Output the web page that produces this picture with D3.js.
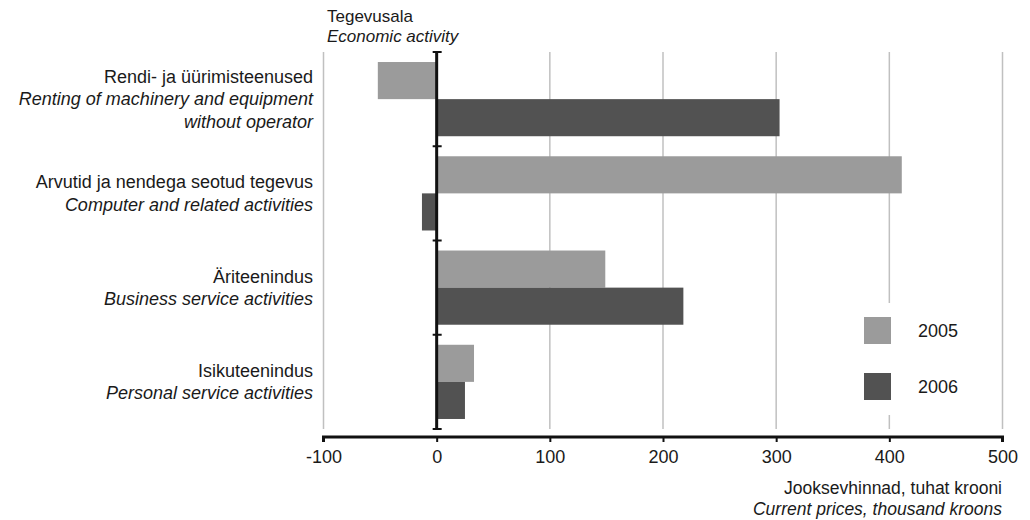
<!DOCTYPE html>
<html>
<head>
<meta charset="utf-8">
<script src="https://cdn.jsdelivr.net/npm/d3@7"></script>
<style>
  body { margin: 0; background: #fff; }
  text { font-family: "Liberation Sans", Arial, sans-serif; fill: #1a1a1a; }
</style>
</head>
<body>
<svg id="chart" width="1030" height="520"></svg>
<script>
const categoriesEt = ["Rendi- ja üürimisteenused", "Arvutid ja nendega seotud tegevus", "Äriteenindus", "Isikuteenindus"];
const categoriesEn = [["Renting of machinery and equipment", "without operator"], ["Computer and related activities"], ["Business service activities"], ["Personal service activities"]];
const seriesNames = ["2005", "2006"];
const values2005 = [-52, 411, 149, 33];
const values2006 = [303, -13, 218, 25];
const xTicks = [-100, 0, 100, 200, 300, 400, 500];
const colors = ["#9b9b9b", "#525252"];

const svg = d3.select("#chart");
const x = d3.scaleLinear().domain([-100, 500]).range([323.5, 1002.5]);
const y = d3.scaleBand().domain(d3.range(categoriesEt.length)).range([52, 429]).paddingInner(0).paddingOuter(0);
const ySub = d3.scaleBand().domain(seriesNames).range([0, y.bandwidth()]).paddingInner(0).paddingOuter(0.27);

// gridlines
svg.append("g").selectAll("line").data(xTicks.filter(d => d !== 0)).join("line")
  .attr("x1", d => x(d)).attr("x2", d => x(d))
  .attr("y1", 52).attr("y2", 429)
  .attr("stroke", "#c0c0c0").attr("stroke-width", 1.5);

// bars
const series = [values2005, values2006];
series.forEach((vals, si) => {
  svg.append("g").selectAll("rect").data(vals).join("rect")
    .attr("x", d => x(Math.min(0, d)))
    .attr("width", d => Math.abs(x(d) - x(0)))
    .attr("y", (d, i) => y(i) + ySub(seriesNames[si]))
    .attr("height", ySub.bandwidth())
    .attr("fill", colors[si]);
});

// legend background
svg.append("rect").attr("x", 846).attr("y", 303).attr("width", 150).attr("height", 112).attr("fill", "#fff");
const legend = svg.append("g");
seriesNames.forEach((s, i) => {
  legend.append("rect").attr("x", 864).attr("y", 317 + i * 56).attr("width", 27).attr("height", 27).attr("fill", colors[i]);
  legend.append("text").attr("x", 918).attr("y", 331 + i * 56).attr("dy", "0.35em")
    .style("font-size", "18px").text(s);
});

// zero axis with category ticks
const zg = svg.append("g");
zg.append("line").attr("x1", x(0)).attr("x2", x(0)).attr("y1", 52).attr("y2", 429)
  .attr("stroke", "#111").attr("stroke-width", 3);
const bounds = y.domain().map(i => y(i)).concat([y.range()[1]]);
zg.selectAll("line.t").data(bounds).join("line").attr("class", "t")
  .attr("x1", x(0) - 4).attr("x2", x(0) + 5)
  .attr("y1", d => d).attr("y2", d => d)
  .attr("stroke", "#111").attr("stroke-width", 2);

// x axis
const xAxis = d3.axisBottom(x).tickValues(xTicks).tickSize(5).tickPadding(8).tickFormat(d => String(d));
const xg = svg.append("g").attr("transform", "translate(0,437)").call(xAxis);
xg.select(".domain").attr("stroke", "#111").attr("stroke-width", 3).attr("d", `M${x(-100)},5V0H${x(500)}V5`);
xg.selectAll(".tick line").attr("stroke", "#111").attr("stroke-width", 2);
xg.selectAll(".tick text").style("font-size", "18px").style("font-family", "Liberation Sans, Arial, sans-serif").attr("fill", "#1a1a1a");

// category labels
categoriesEt.forEach((c, i) => {
  const lines = [{t: c, it: false}].concat(categoriesEn[i].map(t => ({t, it: true})));
  const cy = y(i) + y.bandwidth() / 2;
  const lh = 22.5;
  const start = cy - (lines.length - 1) * lh / 2;
  const g = svg.append("text").attr("text-anchor", "end").style("font-size", "18px");
  lines.forEach((l, j) => {
    g.append("tspan").attr("x", 313).attr("y", start + j * lh).attr("dy", "0.35em")
      .style("font-style", l.it ? "italic" : "normal").text(l.t);
  });
});

// titles
svg.append("text").attr("x", 327).attr("y", 16).attr("dy", "0.35em").style("font-size", "17px").text("Tegevusala");
svg.append("text").attr("x", 327).attr("y", 36.5).attr("dy", "0.35em").style("font-size", "17px").style("font-style", "italic").text("Economic activity");
svg.append("text").attr("x", 1002).attr("y", 488).attr("dy", "0.35em").attr("text-anchor", "end").style("font-size", "17.5px").text("Jooksevhinnad, tuhat krooni");
svg.append("text").attr("x", 1002).attr("y", 509).attr("dy", "0.35em").attr("text-anchor", "end").style("font-size", "17.5px").style("font-style", "italic").text("Current prices, thousand kroons");
</script>
</body>
</html>
